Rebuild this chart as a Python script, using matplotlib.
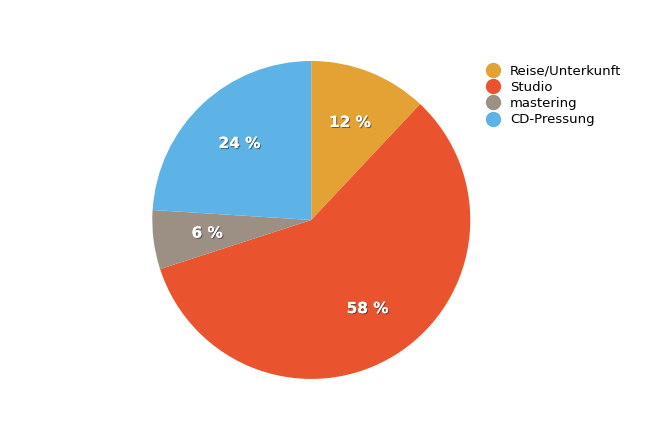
import matplotlib.pyplot as plt
import matplotlib.patheffects as pe
from matplotlib.lines import Line2D

labels = ['Reise/Unterkunft', 'Studio', 'mastering', 'CD-Pressung']
values = [12, 58, 6, 24]
colors = ['#E5A234', '#E9542F', '#9C8F84', '#5DB3E5']

fig = plt.figure(figsize=(6.68, 4.23), dpi=100)
ax = fig.add_axes([0.466 - 0.238, 0.48 - 0.376, 0.476, 0.752])
wedges, texts, autotexts = ax.pie(values, colors=colors, startangle=90, counterclock=False,
                                  autopct='%d %%', pctdistance=0.66,
                                  wedgeprops=dict(linewidth=0))
for t in autotexts:
    t.set_color('white')
    t.set_fontsize(11)
    t.set_fontweight('bold')
    t.set_path_effects([pe.withSimplePatchShadow(offset=(0.8, -0.8), shadow_rgbFace='#333333', alpha=0.6), pe.Normal()])
ax.set_xlim(-1, 1)
ax.set_ylim(-1, 1)
ax.set_aspect('equal')

handles = [Line2D([], [], marker='o', linestyle='none', markersize=10, color=c) for c in colors]
fig.legend(handles, labels, loc='upper left', bbox_to_anchor=(0.71, 0.86), frameon=False,
           fontsize=9.5, handletextpad=0.3, labelspacing=0.25, borderaxespad=0)
fig.savefig('out.png')
